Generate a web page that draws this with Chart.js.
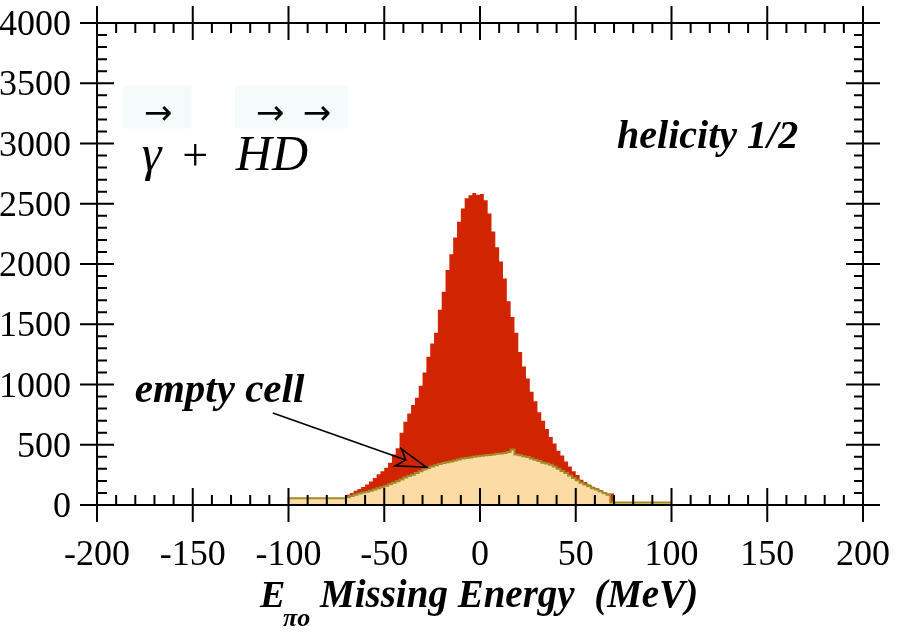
<!DOCTYPE html>
<html><head><meta charset="utf-8">
<script src="https://cdn.jsdelivr.net/npm/chart.js@4/dist/chart.umd.min.js"></script>
<style>html,body{margin:0;padding:0;background:#fff}#wrap{width:900px;height:637px}</style>
</head><body><div id="wrap"><canvas id="c" width="900" height="637"></canvas></div>
<script>
// Bin edges (MeV) of the missing-energy histograms
const binEdges = [-100,-70,-68,-66,-64,-62,-60,-58,-56,-54,-52,-50,-48,-46,-44,-42,-40,-38,-36,-34,-32,-30,-28,-26,-24,-22,-20,-18,-16,-14,-12,-10,-8,-6,-4,-2,0,2,4,6,8,10,12,14,16,18,20,22,24,26,28,30,32,34,36,38,40,42,44,46,48,50,52,54,56,58,60,62,64,66,68,70,100];
// Full target counts per bin (red)
const fullCounts = [0,
 75,85,100,118,132,150,170,195,225,255,280,310,350,420,470,600,690,760,830,890,990,1100,1230,1340,1430,1620,1770,1950,2080,2220,2350,2460,2545,2570,2590,
 2575,2580,2530,2420,2270,2140,2020,1880,1690,1560,1430,1270,1150,1050,940,860,770,700,630,565,510,450,410,360,320,280,250,210,190,170,152,138,124,105,95,
 0];
// Empty cell counts per bin (peach)
const emptyCounts = [20,
 55,65,75,85,95,103,110,118,128,138,150,160,172,185,198,212,228,240,252,265,280,295,308,320,330,340,348,355,362,370,378,385,390,395,400,
 405,408,412,415,420,425,428,432,440,460,420,412,405,398,385,375,365,350,345,335,320,300,282,265,245,225,205,185,170,155,140,128,115,100,85,
 20];
const xTicks = [-200,-150,-100,-50,0,50,100,150,200];
const yTicks = [0,500,1000,1500,2000,2500,3000,3500,4000];

// Step points (left edge of each non-empty bin run, plus closing right edge)
function stepData(counts){
  let first=0, last=counts.length-1;
  while(first<last && counts[first]===0) first++;
  while(last>first && counts[last]===0) last--;
  const pts=[];
  for(let i=first;i<=last;i++) pts.push({x:binEdges[i], y:counts[i]});
  pts.push({x:binEdges[last+1], y:counts[last]});
  return pts;
}

const RED='#D12400', PEACH='#FDDBA5', OLIVE='#A08A2A';

const framePlugin = {
  id:'frame',
  afterDraw(chart){
    const ctx=chart.ctx, xs=chart.scales.x, ys=chart.scales.y, a=chart.chartArea;
    const L=a.left,R=a.right,T=a.top,B=a.bottom, ext=17;
    ctx.save();
    ctx.strokeStyle='#000'; ctx.lineWidth=2; ctx.lineCap='butt';
    ctx.beginPath();
    ctx.moveTo(L-ext,T); ctx.lineTo(R+ext,T);
    ctx.moveTo(L-ext,B); ctx.lineTo(R+ext,B);
    ctx.moveTo(L,T-ext); ctx.lineTo(L,B+ext);
    ctx.moveTo(R,T-ext); ctx.lineTo(R,B+ext);
    for(let v=-200; v<=200; v+=10){
      const px=xs.getPixelForValue(v);
      if(v%50===0){ ctx.moveTo(px,B-17);ctx.lineTo(px,B+17); ctx.moveTo(px,T-17);ctx.lineTo(px,T+17); }
      else { ctx.moveTo(px,B-10);ctx.lineTo(px,B); ctx.moveTo(px,T);ctx.lineTo(px,T+10); }
    }
    for(let v=0; v<=4000; v+=100){
      const py=ys.getPixelForValue(v);
      if(v%500===0){ ctx.moveTo(L-17,py);ctx.lineTo(L+17,py); ctx.moveTo(R-17,py);ctx.lineTo(R+17,py); }
      else { ctx.moveTo(L,py);ctx.lineTo(L+10,py); ctx.moveTo(R-9,py);ctx.lineTo(R,py); }
    }
    ctx.stroke();
    // tick labels
    ctx.fillStyle='#000';
    ctx.font='36px "Liberation Serif"';
    ctx.textAlign='center'; ctx.textBaseline='alphabetic';
    xTicks.forEach(v=>{ ctx.fillText(String(v), xs.getPixelForValue(v), B+60); });
    ctx.textAlign='right';
    yTicks.forEach(v=>{ ctx.fillText(String(v), L-26, ys.getPixelForValue(v)+12); });
    // axis title
    ctx.textAlign='left';
    ctx.font='bold italic 38px "Liberation Serif"';
    ctx.fillText('E', 260, B+102);
    ctx.font='bold italic 26px "Liberation Serif"';
    ctx.fillText('\u03C0o', 283, B+121);
    ctx.font='bold italic 39px "Liberation Serif"';
    ctx.fillText('Missing Energy  (MeV)', 320, B+102);
    // annotations (placed in data coordinates)
    ctx.font='bold italic 40px "Liberation Serif"';
    ctx.fillText('helicity 1/2', xs.getPixelForValue(71.6), ys.getPixelForValue(2961));
    ctx.font='bold italic 41px "Liberation Serif"';
    ctx.fillText('empty cell', xs.getPixelForValue(-180.3), ys.getPixelForValue(854));
    // reaction label
    ctx.fillStyle='#F5FBFB';
    const by1=ys.getPixelForValue(3480), by2=ys.getPixelForValue(3125);
    const bx1=xs.getPixelForValue(-186.6), bx1e=xs.getPixelForValue(-150.5);
    ctx.fillRect(bx1, by1, bx1e-bx1, by2-by1);
    const bx2=xs.getPixelForValue(-128), bx3=xs.getPixelForValue(-69);
    ctx.fillRect(bx2, by1, bx3-bx2, by2-by1);
    ctx.fillStyle='#000';
    ctx.font='italic 50px "Liberation Serif"';
    const base=ys.getPixelForValue(2778);
    ctx.fillText('\u03B3', xs.getPixelForValue(-176.6), base);
    ctx.font='46px "Liberation Serif"';
    ctx.fillText('+', xs.getPixelForValue(-155.5), base);
    ctx.font='italic 50px "Liberation Serif"';
    ctx.fillText('HD', xs.getPixelForValue(-127.5), base);
    ctx.font='34px "DejaVu Sans"';
    const ay=ys.getPixelForValue(3251)+11;
    ctx.fillText('\u2192', xs.getPixelForValue(-175.5), ay);
    ctx.fillText('\u2192', xs.getPixelForValue(-117), ay);
    ctx.fillText('\u2192', xs.getPixelForValue(-92.5), ay);
    // arrow from "empty cell" to the empty-cell histogram
    const sx=xs.getPixelForValue(-108.2), sy=ys.getPixelForValue(763);
    const tx=xs.getPixelForValue(-27.9), ty=ys.getPixelForValue(313);
    const dx=tx-sx, dy=ty-sy, len=Math.hypot(dx,dy), ux=dx/len, uy=dy/len, nx=-uy, ny=ux;
    const nxp=tx-ux*22, nyp=ty-uy*22;
    ctx.lineWidth=1.6; ctx.lineJoin='miter';
    ctx.beginPath(); ctx.moveTo(sx,sy); ctx.lineTo(nxp,nyp); ctx.stroke();
    ctx.beginPath();
    ctx.moveTo(tx,ty);
    ctx.lineTo(tx-ux*30+nx*9, ty-uy*30+ny*9);
    ctx.lineTo(nxp,nyp);
    ctx.lineTo(tx-ux*30-nx*9, ty-uy*30-ny*9);
    ctx.closePath(); ctx.stroke();
    ctx.restore();
  }
};

new Chart(document.getElementById('c'), {
  type:'line',
  data:{ datasets:[
    { label:'empty cell', data:stepData(emptyCounts), stepped:'after', fill:'origin',
      backgroundColor:PEACH, borderColor:OLIVE, borderWidth:2, pointRadius:0, order:0 },
    { label:'full target', data:stepData(fullCounts), stepped:'after', fill:'origin',
      backgroundColor:RED, borderColor:'rgba(0,0,0,0)', borderWidth:1, pointRadius:0, order:1 }
  ]},
  options:{
    responsive:false, animation:false, events:[],
    layout:{ padding:{ left:97, right:37, top:23, bottom:132 } },
    plugins:{ legend:{display:false}, tooltip:{enabled:false} },
    scales:{
      x:{ type:'linear', min:-200, max:200, display:false },
      y:{ type:'linear', min:0, max:4000, display:false }
    }
  },
  plugins:[framePlugin]
});
</script></body></html>
